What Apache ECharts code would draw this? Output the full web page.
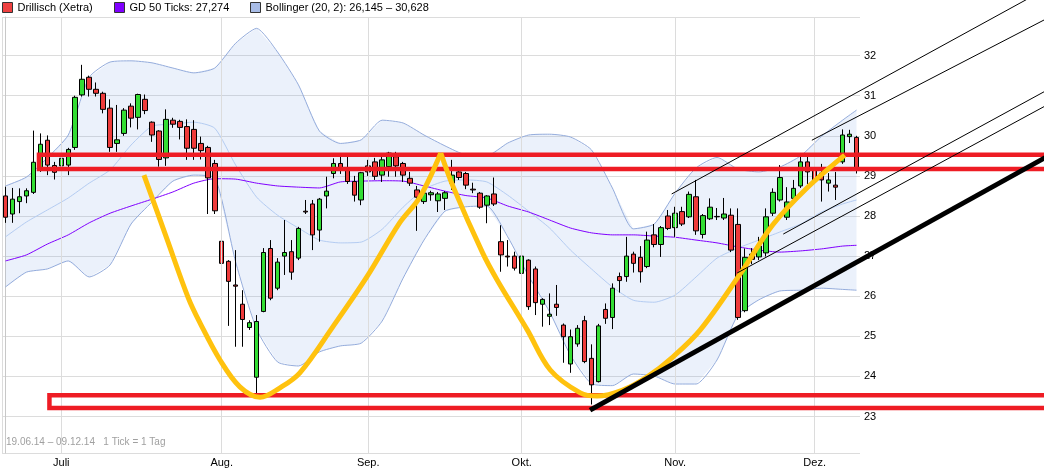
<!DOCTYPE html>
<html><head><meta charset="utf-8">
<script src="https://cdn.jsdelivr.net/npm/echarts@6/dist/echarts.min.js"></script>
<style>html,body{margin:0;padding:0;background:#fff}#c{width:1044px;height:470px}</style>
</head><body><div id="c"></div>
<script>
// ---- categories: Xetra trading days 19.06.14 - 09.12.14 (03.10. missing in feed)
const categories = (function () {
  const out = [];
  const d = new Date(Date.UTC(2014, 5, 19));
  const end = Date.UTC(2014, 11, 9);
  while (d.getTime() <= end) {
    const wd = d.getUTCDay();
    const s = d.toISOString().slice(0, 10);
    if (wd !== 0 && wd !== 6 && s !== '2014-10-03') out.push(s);
    d.setUTCDate(d.getUTCDate() + 1);
  }
  return out;
})();
const monthNames = {'07': 'Juli', '08': 'Aug.', '09': 'Sep.', '10': 'Okt.', '11': 'Nov.', '12': 'Dez.'};

// ---- candles
const candleOpen = [28.50,28.05,28.36,28.50,28.59,29.15,29.89,29.26,29.25,29.27,
29.71,31.02,31.46,31.16,31.06,30.69,29.81,30.06,30.74,30.46,
30.91,30.34,30.12,29.45,30.39,30.36,30.23,30.16,29.81,29.71,
29.31,27.37,26.87,26.28,25.80,25.22,23.98,25.62,27.19,26.20,
27.00,27.11,26.95,28.12,28.30,27.65,28.50,29.06,29.31,29.19,
28.86,28.40,29.25,29.35,29.02,29.23,29.48,29.31,28.94,28.65,
28.36,28.53,28.38,28.44,28.82,29.10,29.06,28.67,28.57,28.27,
28.55,27.36,27.00,27.00,26.57,26.90,26.68,25.80,25.50,25.80,
25.28,24.31,24.81,25.39,24.45,23.87,25.67,25.47,26.49,26.49,
27.05,26.97,26.74,27.53,27.29,28.00,27.71,28.11,27.98,28.48,
27.54,27.93,27.99,27.95,28.02,27.79,25.64,27.05,26.98,27.08,
28.07,28.40,27.97,28.44,28.75,29.35,29.15,29.07,28.82,28.77,
29.35,29.98,29.96];
const candleClose = [27.97,28.42,28.48,28.63,29.34,29.79,29.27,29.09,29.44,29.66,
30.96,31.41,31.16,31.06,30.66,29.71,29.90,30.64,30.44,31.03,
30.63,30.02,29.41,30.41,30.29,30.21,29.69,29.69,29.63,28.95,
28.13,26.82,26.37,26.25,25.42,25.34,25.37,27.09,25.95,26.85,
27.09,26.60,27.69,28.10,27.53,28.42,28.62,29.31,29.18,28.86,
28.52,29.08,29.10,28.99,29.40,29.57,29.25,29.02,28.82,28.47,
28.57,28.58,28.55,28.58,29.02,28.96,28.77,28.65,28.22,28.50,
28.30,27.03,26.98,26.70,27.00,25.74,25.84,25.92,25.55,25.72,
24.99,24.99,25.20,24.37,23.79,25.26,25.45,26.20,26.39,27.00,
26.82,26.61,27.40,27.29,27.71,27.69,28.07,27.80,28.54,27.63,
28.01,28.22,27.98,28.05,27.15,25.47,26.97,26.92,27.25,27.98,
28.59,28.96,28.35,28.69,29.35,29.10,28.90,28.90,28.90,28.72,
30.02,30.04,29.21];
const candleLow = [27.83,27.83,28.07,28.32,28.55,29.10,29.02,28.91,29.08,29.02,
29.65,30.98,30.98,30.98,30.56,29.60,29.60,30.00,30.21,30.16,
30.54,29.85,29.23,29.25,30.20,29.91,29.40,29.40,29.41,28.05,
28.05,25.34,25.26,24.74,24.74,25.16,23.58,25.60,25.90,26.15,
26.53,26.41,26.90,28.05,27.15,27.36,28.19,28.94,29.05,28.80,
28.36,28.27,29.00,28.90,28.85,28.98,28.98,28.85,28.75,27.63,
28.30,28.38,28.10,28.15,28.65,28.90,28.67,28.57,28.18,27.82,
28.25,26.61,26.74,26.64,26.36,25.66,25.53,25.24,25.28,25.51,
24.34,24.09,24.74,24.33,23.30,23.85,25.31,25.18,26.09,26.36,
26.59,26.34,26.70,27.22,26.98,27.65,27.48,27.75,27.95,27.53,
27.44,27.90,27.90,27.90,27.10,25.41,25.60,26.80,26.90,26.99,
28.00,28.36,27.90,28.30,28.70,28.80,28.60,28.36,28.61,28.40,
29.30,29.82,29.06];
const candleHigh = [28.73,28.70,28.69,28.69,30.13,30.06,30.01,29.35,29.50,29.70,
31.00,31.77,31.50,31.33,31.10,30.91,30.77,30.69,30.81,31.05,
31.03,30.36,30.14,30.66,30.45,30.40,30.41,30.39,29.98,29.75,
29.40,27.57,26.90,27.15,26.15,25.40,25.53,27.20,27.40,26.95,
27.90,27.40,27.73,28.40,28.40,28.45,28.98,29.44,29.50,29.50,
29.00,29.10,29.40,29.45,29.55,29.60,29.60,29.35,29.10,28.75,
28.72,28.63,28.60,28.62,29.40,29.20,29.10,28.83,28.60,28.52,
28.96,27.77,27.40,27.11,27.23,26.92,26.74,25.95,26.07,26.28,
25.32,25.17,25.28,25.51,24.80,25.31,25.82,26.32,26.59,27.48,
27.11,27.25,27.61,27.80,27.75,28.15,28.23,28.23,28.61,28.90,
28.05,28.44,28.20,28.45,28.19,28.19,27.19,27.20,27.48,28.19,
28.69,29.27,28.72,28.90,29.52,29.50,29.40,29.30,29.07,29.10,
30.16,30.15,30.00];

// ---- indicators, read at these candle positions
const indIdx = [0,3,6,9,12,15,18,21,24,27,30,33,36,39,42,45,48,51,54,57,60,63,66,69,72,75,78,81,84,87,90,93,96,99,102,105,108,111,114,117,120,122];
const bbUpper = [28.75,28.97,29.45,30.02,31.46,31.84,31.87,31.82,31.69,31.57,31.69,32.31,32.68,32.09,31.27,30.12,29.81,29.90,30.39,30.32,30.02,29.75,29.52,29.50,29.82,30.02,30.04,29.97,29.65,28.70,27.68,27.80,28.57,29.20,29.46,29.17,29.10,29.22,29.50,29.99,30.39,30.64];
const bbMiddle = [27.48,27.85,28.15,28.45,28.82,29.15,29.77,30.24,30.29,30.34,30.19,29.27,28.47,28.02,27.70,27.40,27.33,27.35,27.67,28.22,28.67,28.87,28.90,28.85,28.52,28.12,27.70,27.15,26.68,26.23,25.90,25.85,26.03,26.48,26.95,27.20,27.40,27.60,27.80,28.10,28.30,28.40];
const bbLower = [26.23,26.60,26.68,26.88,26.48,26.78,27.80,28.35,28.87,29.02,28.95,26.85,25.18,24.36,24.26,24.61,24.76,24.83,25.38,26.45,27.40,28.12,28.23,28.25,27.48,26.50,25.61,24.53,23.82,23.77,24.06,24.01,23.81,23.81,24.41,25.53,25.91,26.13,26.15,26.20,26.17,26.15];
const gd50 = [26.88,27.03,27.30,27.53,27.83,28.07,28.25,28.42,28.60,28.82,28.93,28.92,28.82,28.75,28.72,28.70,28.85,28.87,28.88,28.87,28.75,28.62,28.51,28.45,28.25,28.10,27.90,27.70,27.58,27.53,27.53,27.50,27.47,27.40,27.33,27.23,27.15,27.10,27.13,27.18,27.25,27.27];

// ---- drawn annotations [candle position, price]
const resistanceBox = [[150,29.53],[4.8,29.53],[4.8,29.17],[150,29.17]];
const supportBox = [[150,23.53],[6.3,23.53],[6.3,23.21],[150,23.21]];
const cupLeft = [[19.85,29.02],[23.0,27.50],[26.2,25.96],[27.9,25.33],[30.75,24.41],[33.6,23.74],[36.5,23.48],[39.3,23.71],[42.2,24.09],[46.9,25.23],[51.8,26.48],[56.5,27.83],[59.4,28.47],[62.4,29.57]];
const cupRight = [[62.4,29.57],[64.2,28.72],[68.4,27.08],[70.5,26.40],[74.8,25.16],[78.1,24.16],[82.4,23.59],[84.8,23.51],[88.5,23.66],[92.0,23.99],[95.7,24.49],[99.6,25.16],[105.3,26.55],[110.0,27.78],[114.9,28.70],[120.3,29.52]];
const trendLine = [[83.8,23.16],[149.7,29.52]];
const channelA = [[95.5,28.55],[148.9,33.64]];
const channelB = [[115.6,29.89],[148.9,32.89]];
const channelC = [[111.5,27.55],[148.9,31.10]];
const channelD = [[104.9,26.58],[148.9,30.73]];

const legendNames = ['Drillisch (Xetra)', 'GD 50 Ticks: 27,274', 'Bollinger (20, 2): 26,145 \u2013 30,628'];
const infoText = '19.06.14 \u2013 09.12.14   1 Tick = 1 Tag';

// ---- build
const FONT = 'Liberation Sans, Arial, sans-serif';
const candleData = candleOpen.map((o, i) => [o, candleClose[i], candleLow[i], candleHigh[i]]);
const pts = arr => indIdx.map((x, k) => [x, arr[k]]);
const monthStart = {};
categories.forEach((d, i) => { const m = d.slice(5, 7); if (i > 0 && categories[i - 1].slice(5, 7) !== m) monthStart[i] = monthNames[m]; });
const gridX = Object.keys(monthStart).map(k => ({xAxis: +k}));

function annot(data, color, width, smooth, z) {
  return {type: 'line', xAxisIndex: 2, yAxisIndex: 1, data: data, symbol: 'none', smooth: smooth || false,
    silent: true, z: z, lineStyle: {color: color, width: width, cap: 'butt', join: 'miter'}};
}
function legendItem(i, left, color) {
  return {left: left, top: 2, padding: 0, itemWidth: 10, itemHeight: 10, icon: 'rect', itemGap: 0,
    textStyle: {fontFamily: FONT, fontSize: 11, color: '#000'},
    selectedMode: false,
    data: [{name: legendNames[i], itemStyle: {color: color, borderColor: '#333', borderWidth: 1}}]};
}

const chart = echarts.init(document.getElementById('c'), null, {renderer: 'canvas'});
chart.setOption({
  animation: false,
  backgroundColor: '#fff',
  title: {text: infoText, left: 6, top: 437, padding: 0, textStyle: {fontFamily: FONT, fontSize: 10, fontWeight: 'normal', color: '#a0a0a0'}},
  legend: [legendItem(0, 2, '#ee4040'), legendItem(1, 114, '#8000ff'), legendItem(2, 250, '#a8bce6')],
  grid: [
    {left: 2, right: 184, top: 17, bottom: 17},
    {left: 2, right: 0, top: 0, bottom: 17}
  ],
  xAxis: [
    {type: 'category', gridIndex: 0, data: categories, boundaryGap: true,
      axisLine: {show: false}, axisTick: {show: false}, splitLine: {show: false},
      axisLabel: {interval: (i) => monthStart[i] !== undefined, formatter: (v, i) => monthStart[i] || '',
        fontFamily: FONT, fontSize: 11, color: '#000', margin: 4}},
    {type: 'value', gridIndex: 0, min: -0.5, max: 122.5, show: false, position: 'top'},
    {type: 'value', gridIndex: 1, min: -0.5, max: 148.877, show: false}
  ],
  yAxis: [
    {type: 'value', gridIndex: 0, position: 'right', min: 22.09, max: 32.963, splitNumber: 11, minInterval: 1, maxInterval: 1,
      axisLine: {show: true, lineStyle: {color: '#c8c8c8'}}, axisTick: {show: false},
      axisLabel: {showMinLabel: false, showMaxLabel: false, fontFamily: FONT, fontSize: 11, color: '#000', margin: 4},
      splitLine: {show: true, lineStyle: {color: '#dcdcdc', width: 1}}},
    {type: 'value', gridIndex: 1, min: 22.09, max: 33.387, show: false}
  ],
  series: [
    {type: 'custom', name: legendNames[2], xAxisIndex: 1, yAxisIndex: 0, data: [0], silent: true, z: 1,
      renderItem: function (params, api) {
        if (params.dataIndex !== 0) return null;
        const up = indIdx.map((x, k) => api.coord([x, bbUpper[k]]));
        const lo = indIdx.map((x, k) => api.coord([x, bbLower[k]])).reverse();
        return {type: 'polygon', shape: {points: up.concat(lo)}, style: {fill: 'rgba(120,160,230,0.15)'}};
      }},
    {type: 'line', name: 'bbUpper', xAxisIndex: 1, data: pts(bbUpper), symbol: 'none', smooth: 0.2, silent: true, z: 2,
      lineStyle: {color: '#94acdc', width: 1},
      markLine: {silent: true, symbol: 'none', label: {show: false}, lineStyle: {color: '#dcdcdc', type: 'solid', width: 1},
        data: [{xAxis: -0.5}].concat(gridX)}},
    {type: 'line', name: 'bbLower', xAxisIndex: 1, data: pts(bbLower), symbol: 'none', smooth: 0.2, silent: true, z: 2,
      lineStyle: {color: '#94acdc', width: 1}},
    {type: 'line', name: 'bbMiddle', xAxisIndex: 1, data: pts(bbMiddle), symbol: 'none', smooth: 0.2, silent: true, z: 2,
      lineStyle: {color: '#b4ccf2', width: 1}},
    {type: 'line', name: legendNames[1], xAxisIndex: 1, data: pts(gd50), symbol: 'none', smooth: 0.2, silent: true, z: 2,
      lineStyle: {color: '#8000ff', width: 1}},
    {type: 'candlestick', name: legendNames[0], xAxisIndex: 0, data: candleData, barWidth: 5, z: 3,
      itemStyle: {color: '#33dd33', color0: '#ee3b3b', borderColor: '#000', borderColor0: '#000', borderWidth: 1}},
    annot(resistanceBox, '#ee1c24', 4.5, false, 5),
    annot(supportBox, '#ee1c24', 4.5, false, 5),
    annot(cupLeft, '#ffc20e', 5, 0.35, 6),
    annot(cupRight, '#ffc20e', 5, 0.35, 6),
    annot(channelA, '#000', 1, false, 7),
    annot(channelB, '#000', 1, false, 7),
    annot(channelC, '#000', 1, false, 7),
    annot(channelD, '#000', 1, false, 7),
    annot(trendLine, '#000', 5, false, 8)
  ]
});
</script></body></html>
